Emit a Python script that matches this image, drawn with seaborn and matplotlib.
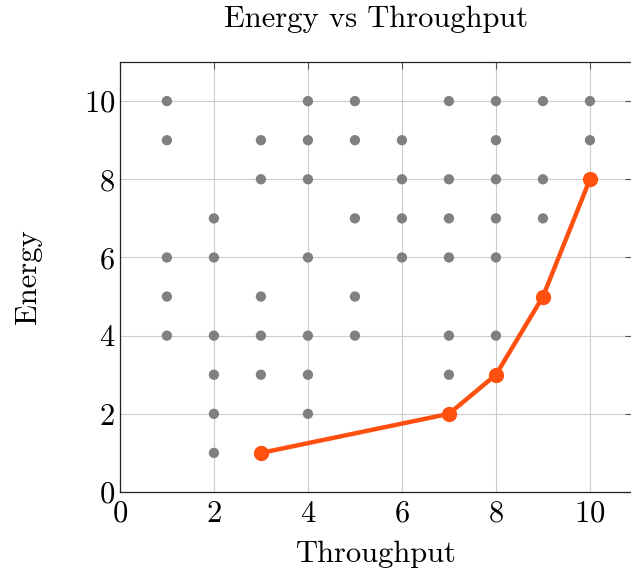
import matplotlib
matplotlib.use("Agg")
import matplotlib.pyplot as plt
import seaborn as sns
import pandas as pd

# All configurations (grey dots)
all_x = [1, 1, 1, 1, 1,
         2, 2, 2, 2, 2, 2,
         3, 3, 3, 3, 3,
         4, 4, 4, 4, 4, 4, 4,
         5, 5, 5, 5, 5,
         6, 6, 6, 6,
         7, 7, 7, 7, 7, 7,
         8, 8, 8, 8, 8, 8,
         9, 9, 9,
         10, 10]
all_y = [10, 9, 6, 5, 4,
         7, 6, 4, 3, 2, 1,
         9, 8, 5, 4, 3,
         10, 9, 8, 6, 4, 3, 2,
         10, 9, 7, 5, 4,
         9, 8, 7, 6,
         10, 8, 7, 6, 4, 3,
         10, 9, 8, 7, 6, 4,
         10, 8, 7,
         10, 9]

# Pareto front (orange line)
front_x = [3, 7, 8, 9, 10]
front_y = [1, 2, 3, 5, 8]

xticks = [0, 2, 4, 6, 8, 10]
yticks = [0, 2, 4, 6, 8, 10]

sns.set_style("white")
plt.rcParams['font.family'] = ['cmr10', 'DejaVu Serif']
plt.rcParams['mathtext.fontset'] = 'cm'
plt.rcParams['axes.formatter.use_mathtext'] = True
plt.rcParams['text.color'] = 'black'
plt.rcParams['axes.labelcolor'] = 'black'

fig = plt.figure(figsize=(6.31, 5.77), dpi=100)
ax = fig.add_axes([0.190, 0.1473, 0.812, 0.7452])

df_all = pd.DataFrame({"Throughput": all_x, "Energy": all_y})
df_front = pd.DataFrame({"Throughput": front_x, "Energy": front_y})

sns.scatterplot(data=df_all, x="Throughput", y="Energy", ax=ax,
                color="#808080", s=55, edgecolor="none", zorder=3)
sns.lineplot(data=df_front, x="Throughput", y="Energy", ax=ax,
             color="#ff5010", linewidth=3.2, marker="o", markersize=11,
             markeredgewidth=0, zorder=4)

ax.set_xlim(0, 10.9)
ax.set_ylim(0, 11)
ax.set_xticks(xticks)
ax.set_yticks(yticks)
ax.grid(True, color="#cccccc", linewidth=0.8, zorder=0)
ax.set_axisbelow(True)
for s in ax.spines.values():
    s.set_color("#222222")
    s.set_linewidth(0.9)
ax.tick_params(direction="in", length=5, width=0.8, labelsize=22,
               top=True, right=True, color="#555555", labelcolor="black")
ax.tick_params(axis="x", pad=6)

ax.set_xlabel("Throughput", fontsize=22, labelpad=9, color="black")
ax.set_ylabel("Energy", fontsize=22, labelpad=30, color="black")
ax.set_title("Energy vs Throughput", fontsize=22, pad=25, color="black")

fig.savefig("out.png", dpi=100)
